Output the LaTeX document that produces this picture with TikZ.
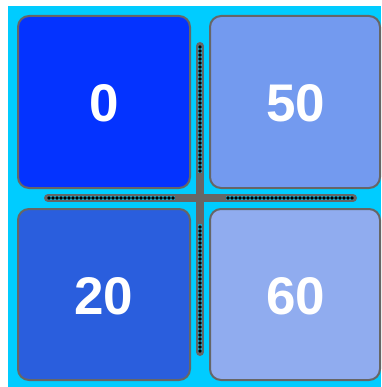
\documentclass[tikz,border=0pt]{standalone}
\usepackage{fontspec}
\setmainfont{Liberation Sans}
\definecolor{bgc}{HTML}{00CCFF}
\definecolor{bordc}{HTML}{666666}
\definecolor{cTL}{HTML}{0433FF}
\definecolor{cTR}{HTML}{739AEF}
\definecolor{cBL}{HTML}{2A5EDD}
\definecolor{cBR}{HTML}{90ACEF}
\definecolor{barin}{HTML}{1E9FBF}
\begin{document}
\begin{tikzpicture}[x=1pt,y=-1pt,
  tile/.style={draw=bordc,line width=2pt,rounded corners=11pt},
  lbl/.style={text=white,font=\fontsize{53}{60}\selectfont\bfseries,inner sep=0pt},
  barout/.style={draw=bordc,line width=8pt,line cap=round},
  barinner/.style={draw=barin,line width=4pt},
  dotc/.style={fill=black}]
\useasboundingbox (0,0) rectangle (381,387);
\fill[white] (0,0) rectangle (381,387);
\fill[bgc] (8,6) rectangle (381,387);
% tiles
\draw[tile,fill=cTL] (18,16) rectangle (190,188);
\draw[tile,fill=cTR] (210,16) rectangle (380,188);
\draw[tile,fill=cBL] (18,209) rectangle (190,380);
\draw[tile,fill=cBR] (210,209) rectangle (380,380);
\node[lbl] (t0) at (104,103) {0};
\node[lbl] (t50) at (296,103) {50};
\node[lbl] (t20) at (104,296) {20};
\node[lbl] (t60) at (296,296) {60};
% cross bars
\coordinate (vtop) at (200,46);
\coordinate (vbot) at (200,352);
\coordinate (hl) at (48,198);
\coordinate (hr) at (353,198);
\draw[barout] (vtop) -- (vbot);
\draw[barout] (hl) -- (hr);
\draw[barinner] (200,46) -- (200,173);
\draw[barinner] (200,224) -- (200,352);
\draw[barinner] (48,198) -- (175,198);
\draw[barinner] (226,198) -- (353,198);
\foreach \i in {0,...,31} {
  \fill[dotc] (200,47+4*\i) circle (1.9);
  \fill[dotc] (200,227+4*\i) circle (1.9);
  \fill[dotc] (49+4*\i,198) circle (1.9);
  \fill[dotc] (228+4*\i,198) circle (1.9);
}
\end{tikzpicture}
\end{document}
